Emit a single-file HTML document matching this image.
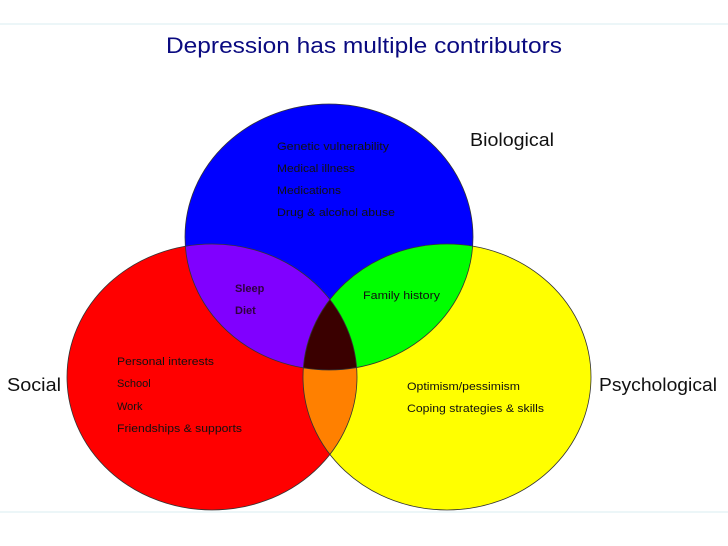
<!DOCTYPE html>
<html><head><meta charset="utf-8"><style>
html,body{margin:0;padding:0;background:#fff;}
svg{display:block;}
</style></head><body>
<svg width="728" height="546" viewBox="0 0 728 546" xmlns="http://www.w3.org/2000/svg">
<defs>
<clipPath id="cb"><ellipse cx="329" cy="237" rx="144" ry="133"/></clipPath>
<clipPath id="cr"><ellipse cx="212" cy="377" rx="145" ry="133"/></clipPath>
<clipPath id="cy"><ellipse cx="447" cy="377" rx="144" ry="133"/></clipPath>
</defs>
<rect width="728" height="546" fill="#fff"/>
<line x1="0" y1="24" x2="728" y2="24" stroke="#d8eef2" stroke-width="1"/>
<line x1="0" y1="512" x2="728" y2="512" stroke="#d8eef2" stroke-width="1"/>
<text x="364" y="53" text-anchor="middle" font-family="Liberation Sans, sans-serif" font-size="22" fill="#0a0a80" textLength="396" lengthAdjust="spacingAndGlyphs">Depression has multiple contributors</text>

<ellipse cx="329" cy="237" rx="144" ry="133" fill="#0000ff"/>
<ellipse cx="212" cy="377" rx="145" ry="133" fill="#ff0000"/>
<ellipse cx="447" cy="377" rx="144" ry="133" fill="#ffff00"/>
<g clip-path="url(#cb)"><ellipse cx="212" cy="377" rx="145" ry="133" fill="#8000ff"/><ellipse cx="447" cy="377" rx="144" ry="133" fill="#00ff00"/></g>
<g clip-path="url(#cr)"><ellipse cx="447" cy="377" rx="144" ry="133" fill="#ff8000"/></g>
<g clip-path="url(#cr)"><g clip-path="url(#cy)"><ellipse cx="329" cy="237" rx="144" ry="133" fill="#3a0000"/></g></g>
<g fill="none" stroke="#333" stroke-width="0.8">
<ellipse cx="329" cy="237" rx="144" ry="133"/>
<ellipse cx="212" cy="377" rx="145" ry="133"/>
<ellipse cx="447" cy="377" rx="144" ry="133"/>
</g>

<g font-family="Liberation Sans, sans-serif" font-size="11" fill="#111">
<text x="277" y="150" textLength="112" lengthAdjust="spacingAndGlyphs">Genetic vulnerability</text>
<text x="277" y="172" textLength="78" lengthAdjust="spacingAndGlyphs">Medical illness</text>
<text x="277" y="194" textLength="64" lengthAdjust="spacingAndGlyphs">Medications</text>
<text x="277" y="216" textLength="118" lengthAdjust="spacingAndGlyphs">Drug &amp; alcohol abuse</text>
<text x="235" y="292" font-weight="bold" fill="#300040">Sleep</text>
<text x="235" y="314" font-weight="bold" fill="#300040">Diet</text>
<text x="363" y="299" textLength="77" lengthAdjust="spacingAndGlyphs">Family history</text>
<text x="117" y="365" textLength="97" lengthAdjust="spacingAndGlyphs">Personal interests</text>
<text x="117" y="387">School</text>
<text x="117" y="410">Work</text>
<text x="117" y="432" textLength="125" lengthAdjust="spacingAndGlyphs">Friendships &amp; supports</text>
<text x="407" y="390" textLength="113" lengthAdjust="spacingAndGlyphs">Optimism/pessimism</text>
<text x="407" y="412" textLength="137" lengthAdjust="spacingAndGlyphs">Coping strategies &amp; skills</text>
</g>
<g font-family="Liberation Sans, sans-serif" font-size="18" fill="#111">
<text x="470" y="146" textLength="84" lengthAdjust="spacingAndGlyphs">Biological</text>
<text x="7" y="391" textLength="54" lengthAdjust="spacingAndGlyphs">Social</text>
<text x="599" y="391" textLength="118" lengthAdjust="spacingAndGlyphs">Psychological</text>
</g>
</svg>
</body></html>
